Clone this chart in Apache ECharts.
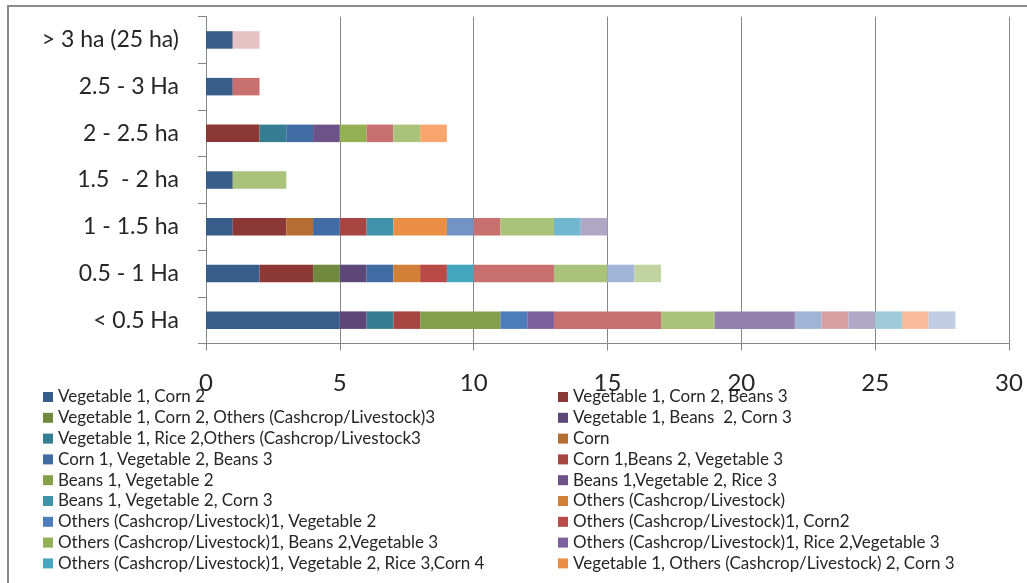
<!DOCTYPE html>
<html>
<head>
<meta charset="utf-8">
<script src="https://cdn.jsdelivr.net/npm/echarts@6/dist/echarts.min.js"></script>
<style>
html,body{margin:0;padding:0;background:#fff;}
#e1{width:1027px;height:583px;}
</style>
</head>
<body>
<div id="e1"></div>
<script>
// categories bottom -> top (ECharts draws the first category at the bottom)
var categories = ['< 0.5 Ha', '0.5 - 1 Ha', '1 - 1.5 ha', '1.5  - 2 ha', '2 - 2.5 ha', '2.5 - 3 Ha', '> 3 ha (25 ha)'];
var xTicks = [0, 5, 10, 15, 20, 25, 30];

// only the first 18 names are visible in the legend
var seriesNames = [
    'Vegetable 1, Corn 2',
    'Vegetable 1, Corn 2, Beans 3',
    'Vegetable 1, Corn 2, Others (Cashcrop/Livestock)3',
    'Vegetable 1, Beans  2, Corn 3',
    'Vegetable 1, Rice 2,Others (Cashcrop/Livestock3',
    'Corn',
    'Corn 1, Vegetable 2, Beans 3',
    'Corn 1,Beans 2, Vegetable 3',
    'Beans 1, Vegetable 2',
    'Beans 1,Vegetable 2, Rice 3',
    'Beans 1, Vegetable 2, Corn 3',
    'Others (Cashcrop/Livestock)',
    'Others (Cashcrop/Livestock)1, Vegetable 2',
    'Others (Cashcrop/Livestock)1, Corn2',
    'Others (Cashcrop/Livestock)1, Beans 2,Vegetable 3',
    'Others (Cashcrop/Livestock)1, Rice 2,Vegetable 3',
    'Others (Cashcrop/Livestock)1, Vegetable 2, Rice 3,Corn 4',
    'Vegetable 1, Others (Cashcrop/Livestock) 2, Corn 3',
    'Series 19', 'Series 20', 'Series 21', 'Series 22', 'Series 23', 'Series 24', 'Series 25',
    'Series 26', 'Series 27', 'Series 28', 'Series 29', 'Series 30', 'Series 31', 'Series 32'
];

// values per series, same order as categories
var s1 = [5, 2, 1, 1, 0, 1, 1];
var s2 = [0, 2, 2, 0, 2, 0, 0];
var s3 = [0, 1, 0, 0, 0, 0, 0];
var s4 = [1, 1, 0, 0, 0, 0, 0];
var s5 = [1, 0, 0, 0, 1, 0, 0];
var s6 = [0, 0, 1, 0, 0, 0, 0];
var s7 = [0, 1, 1, 0, 1, 0, 0];
var s8 = [1, 0, 1, 0, 0, 0, 0];
var s9 = [3, 0, 0, 0, 0, 0, 0];
var s10 = [0, 0, 0, 0, 1, 0, 0];
var s11 = [0, 0, 1, 0, 0, 0, 0];
var s12 = [0, 1, 0, 0, 0, 0, 0];
var s13 = [1, 0, 0, 0, 0, 0, 0];
var s14 = [0, 1, 0, 0, 0, 0, 0];
var s15 = [0, 0, 0, 0, 1, 0, 0];
var s16 = [1, 0, 0, 0, 0, 0, 0];
var s17 = [0, 1, 0, 0, 0, 0, 0];
var s18 = [0, 0, 2, 0, 0, 0, 0];
var s19 = [0, 0, 1, 0, 0, 0, 0];
var s20 = [4, 3, 1, 0, 1, 1, 0];
var s21 = [2, 2, 2, 2, 1, 0, 0];
var s22 = [3, 0, 0, 0, 0, 0, 0];
var s23 = [0, 0, 1, 0, 0, 0, 0];
var s24 = [0, 0, 0, 0, 1, 0, 0];
var s25 = [1, 1, 0, 0, 0, 0, 0];
var s26 = [1, 0, 0, 0, 0, 0, 0];
var s27 = [0, 1, 0, 0, 0, 0, 0];
var s28 = [1, 0, 1, 0, 0, 0, 0];
var s29 = [1, 0, 0, 0, 0, 0, 0];
var s30 = [1, 0, 0, 0, 0, 0, 0];
var s31 = [1, 0, 0, 0, 0, 0, 0];
var s32 = [0, 0, 0, 0, 0, 0, 1];
var allValues = [s1, s2, s3, s4, s5, s6, s7, s8, s9, s10, s11, s12, s13, s14, s15, s16,
    s17, s18, s19, s20, s21, s22, s23, s24, s25, s26, s27, s28, s29, s30, s31, s32];

var colors = [
    '#385D8A', '#8C3836', '#71893F', '#5C4776', '#357D91', '#B66D31',
    '#416BA3', '#A64541', '#84A04A', '#6D528A', '#4092AB', '#D27F38',
    '#4A7DBA', '#B94A48', '#93B053', '#7D5F9E', '#45A6C0', '#EB8F45',
    '#7393C5', '#C87070', '#A9C47A', '#9380AD', '#71B7CF', '#F8A66E',
    '#A0B4D6', '#D8A0A0', '#C2D3A2', '#B0A6C6', '#9ECAD9', '#F9BC9A',
    '#C1CDE3', '#E5C3C4'
];

var e1 = echarts.init(document.getElementById('e1'));
var font = 'Lato, "Open Sans", sans-serif';
var gray = '#868686';

var seriesArr = [];
for (var i = 0; i < allValues.length; i++) {
    seriesArr.push({
        name: seriesNames[i],
        type: 'bar',
        stack: 'all',
        barWidth: '37.5%',
        itemStyle: {color: colors[i]},
        data: allValues[i]
    });
}

// legend in two columns, filled row by row
var leftCol = [], rightCol = [];
for (var j = 0; j < 18; j++) {
    if (j % 2 == 0) leftCol.push(seriesNames[j]); else rightCol.push(seriesNames[j]);
}
var legendBase = {
    orient: 'vertical',
    top: 388.5,
    height: 200,
    padding: 0,
    icon: 'rect',
    itemWidth: 10,
    itemHeight: 10,
    itemGap: 3.8,
    selectedMode: false,
    textStyle: {fontFamily: font, fontSize: 17, lineHeight: 15, color: '#262626', padding: [0, 0, 0, 0]}
};

var option1 = {
    animation: false,
    backgroundColor: '#fff',
    graphic: [{
        type: 'rect',
        shape: {x: 8, y: 6, width: 1100, height: 700},
        style: {fill: 'none', stroke: '#8a8a8a', lineWidth: 2},
        silent: true
    }],
    legend: [
        Object.assign({}, legendBase, {left: 43, data: leftCol}),
        Object.assign({}, legendBase, {left: 558, data: rightCol})
    ],
    grid: {left: 206, right: 18, top: 16.6, bottom: 239.5, containLabel: false},
    xAxis: {
        type: 'value',
        min: xTicks[0],
        max: xTicks[xTicks.length - 1],
        interval: 5,
        axisLine: {show: true, lineStyle: {color: gray, width: 1}},
        axisTick: {show: true, length: 7, lineStyle: {color: gray}},
        axisLabel: {fontFamily: font, fontSize: 24, color: '#262626', margin: 28},
        splitLine: {show: true, lineStyle: {color: gray, width: 1}}
    },
    yAxis: {
        type: 'category',
        data: categories,
        axisLine: {show: true, lineStyle: {color: gray, width: 1}},
        axisTick: {show: true, length: 8, lineStyle: {color: gray}},
        axisLabel: {fontFamily: font, fontSize: 23, color: '#262626', margin: 27}
    },
    series: seriesArr
};
e1.setOption(option1);
</script>
</body>
</html>
